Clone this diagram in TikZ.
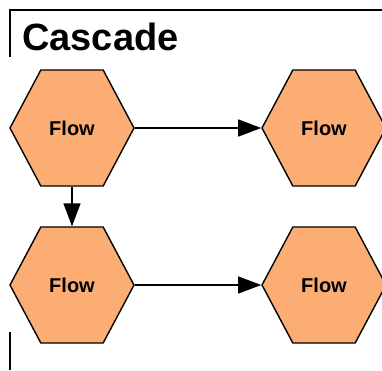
\documentclass[tikz,border=0pt]{standalone}
\usepackage{fontspec}
\setmainfont{Liberation Sans}
\usetikzlibrary{arrows.meta,shapes.symbols,positioning}
\definecolor{flowfill}{RGB}{252,173,116}

\tikzset{
    flowhex/.style={shape=signal, signal to=east and west, signal pointer angle=124,
        draw, line width=1.4pt, fill=flowfill, inner sep=0pt,
        minimum width=124pt, minimum height=116pt, font=\fontsize{20}{24}\selectfont\bfseries},
    flowarrow/.style={line width=1.4pt, -{Triangle[length=23pt,width=17pt]}}
}

\begin{document}
\begin{tikzpicture}[x=1pt, y=-1pt]
    \useasboundingbox (0,0) rectangle (382,370);

    % frame around the group
    \draw[line width=1.4pt] (10,57) -- (10,10) -- (382,10);
    \draw[line width=1.4pt] (10,332) -- (10,370);
    \node[anchor=base west, inner sep=0pt, font=\fontsize{38}{44}\selectfont\bfseries] (title) at (22,50) {Cascade};

    % the four flows
    \node[flowhex] (flowA) at (72,128) {Flow};
    \node[flowhex] (flowB) at (324,128) {Flow};
    \node[flowhex] (flowC) at (72,285) {Flow};
    \node[flowhex] (flowD) at (324,285) {Flow};

    \draw[flowarrow] (flowA.east) -- (flowB.west);
    \draw[flowarrow] (flowA.south) -- (flowC.north);
    \draw[flowarrow] (flowC.east) -- (flowD.west);
\end{tikzpicture}
\end{document}
